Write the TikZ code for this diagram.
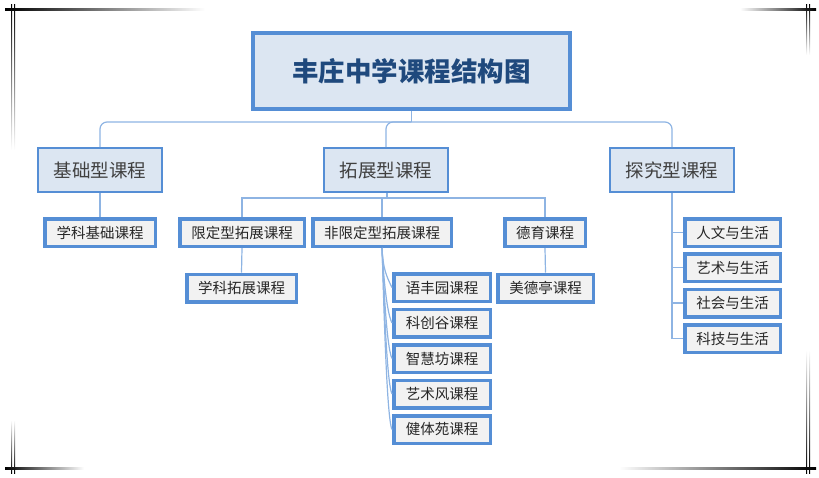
\documentclass[tikz,border=0pt]{standalone}
\usepackage{fontspec}
\usepackage{xcolor}
\usetikzlibrary{positioning, calc}
\newfontfamily\cjk{Noto Sans CJK SC}
\definecolor{BoxBlue}{HTML}{558ED5}
\definecolor{BoxFill}{HTML}{DCE6F2}
\definecolor{LeafFill}{HTML}{F2F2F2}
\definecolor{LinkBlue}{HTML}{8EB4E3}
\definecolor{TitleText}{HTML}{1F497D}
\definecolor{TextGray}{HTML}{404040}
\definecolor{TextDark}{HTML}{262626}
\tikzset{
    % Box styles - all sharp corners
    titlebox/.style={
        rectangle,
        draw=BoxBlue,
        fill=BoxFill,
        line width=4pt,
        minimum width=317pt,
        minimum height=76pt,
        inner sep=0pt,
        align=center,
        text=TitleText,
        font=\cjk\bfseries\fontsize{26.5}{30}\selectfont
    },
    typebox/.style={
        rectangle,
        draw=BoxBlue,
        fill=BoxFill,
        line width=2pt,
        minimum width=124pt,
        minimum height=44pt,
        inner sep=0pt,
        align=center,
        text=TextGray,
        font=\cjk\fontsize{18.5}{22}\selectfont
    },
    leaf/.style={
        rectangle,
        draw=BoxBlue,
        fill=LeafFill,
        line width=3.5pt,
        minimum height=27.5pt,
        inner sep=0pt,
        align=center,
        text=TextDark,
        font=\cjk\fontsize{14.5}{17}\selectfont
    },
    % Connector styles
    link/.style={
        line width=1.2pt,
        draw=LinkBlue
    },
    cornerline/.style={
        line width=0pt
    }
}
\begin{document}
\begin{tikzpicture}[x=1pt, y=1pt]
    \useasboundingbox (0,0) rectangle (819,-477);

    % Frame corners
    \shade[cornerline, left color=black, right color=white] (5,-8) rectangle (205,-10.5);
    \shade[cornerline, left color=white, right color=black] (740,-8) rectangle (816,-10.5);
    \shade[cornerline, top color=black, bottom color=white] (11,-4) rectangle (12.2,-150);
    \shade[cornerline, top color=black, bottom color=white] (14,-4) rectangle (15.2,-150);
    \shade[cornerline, top color=black, bottom color=white] (806,-4) rectangle (807.2,-55);
    \shade[cornerline, top color=black, bottom color=white] (809,-4) rectangle (810.2,-55);
    \shade[cornerline, left color=black, right color=white] (5,-467) rectangle (84,-469.5);
    \shade[cornerline, left color=white, right color=black] (619,-467) rectangle (816,-469.5);
    \shade[cornerline, top color=white, bottom color=black] (11,-420) rectangle (12.2,-473);
    \shade[cornerline, top color=white, bottom color=black] (14,-420) rectangle (15.2,-473);
    \shade[cornerline, top color=white, bottom color=black] (806,-350) rectangle (807.2,-473);
    \shade[cornerline, top color=white, bottom color=black] (809,-350) rectangle (810.2,-473);

    % Title
    \node[titlebox] (title) at (411.5,-71) {丰庄中学课程结构图};

    % Course types
    \node[typebox] (jichu) at (100,-170) {基础型课程};
    \node[typebox] (tuozhan) at (386,-170) {拓展型课程};
    \node[typebox] (tanjiu) at (672,-170) {探究型课程};

    % Basic
    \node[leaf, minimum width=110.5pt] (xkjichu) at (100,-232.5) {学科基础课程};

    % Extended
    \node[leaf, minimum width=124.5pt] (xianding) at (242,-232.5) {限定型拓展课程};
    \node[leaf, minimum width=138.5pt] (feixian) at (382,-232.5) {非限定型拓展课程};
    \node[leaf, minimum width=80.5pt] (deyu) at (545,-232.5) {德育课程};
    \node[leaf, minimum width=109.5pt] (xktuozhan) at (241.5,-288) {学科拓展课程};
    \node[leaf, minimum width=95.5pt] (meide) at (545.5,-288) {美德亭课程};
    \node[leaf, minimum width=96.5pt] (yufeng) at (442,-287.5) {语丰园课程};
    \node[leaf, minimum width=96.5pt] (kechuang) at (442,-323) {科创谷课程};
    \node[leaf, minimum width=96.5pt] (zhihui) at (442,-358.5) {智慧坊课程};
    \node[leaf, minimum width=96.5pt] (yishu) at (442,-394) {艺术风课程};
    \node[leaf, minimum width=96.5pt] (jianti) at (442,-429.5) {健体苑课程};

    % Inquiry
    \node[leaf, minimum width=95.5pt] (renwen) at (732.5,-232.5) {人文与生活};
    \node[leaf, minimum width=95.5pt] (yishush) at (732.5,-267.5) {艺术与生活};
    \node[leaf, minimum width=95.5pt] (shehui) at (732.5,-303) {社会与生活};
    \node[leaf, minimum width=95.5pt] (keji) at (732.5,-338.5) {科技与生活};

    % Connectors
    \coordinate (hub) at ($(title.south)+(0,-11)$);
    \coordinate (hubtz) at ($(tuozhan.south)+(1,-5)$);
    \draw[link] (title.south) -- (hub);
    \draw[link, rounded corners=7pt] (jichu.north) |- (hub);
    \draw[link, rounded corners=7pt] (tuozhan.north) |- (hub);
    \draw[link, rounded corners=7pt] (tanjiu.north) |- (hub);
    \draw[link] (jichu.south) -- (xkjichu.north);
    \draw[link] (tuozhan.south -| hubtz) -- (hubtz);
    \draw[link] (xianding.north) |- (hubtz);
    \draw[link] (feixian.north) |- (hubtz);
    \draw[link] (deyu.north) |- (hubtz);
    \draw[link] (xianding.south) -- (xktuozhan.north);
    \draw[link] (deyu.south) -- (meide.north);
    \foreach \sub in {yufeng, kechuang, zhihui, yishu, jianti}
        \draw[link] (feixian.south) .. controls ($(feixian.south)+(1,-20)$) and ($(\sub.west)+(-6,12)$) .. (\sub.west);
    \foreach \sub in {renwen, yishush, shehui, keji}
        \draw[link] (tanjiu.south) |- (\sub.west);
\end{tikzpicture}
\end{document}
